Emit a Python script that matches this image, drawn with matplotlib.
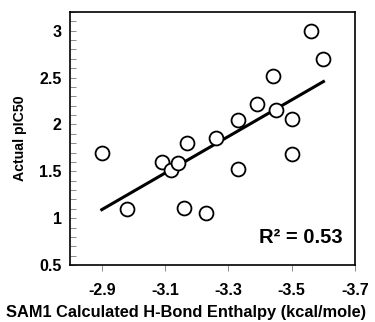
import numpy as np
import matplotlib.pyplot as plt
from matplotlib.ticker import MultipleLocator

plt.rcParams["font.family"] = ["Liberation Sans", "DejaVu Sans"]
plt.rcParams["font.weight"] = "bold"

# SAM1 enthalpy (kcal/mole) vs actual pIC50
enthalpy = [-2.90, -2.98, -3.09, -3.12, -3.14, -3.17, -3.16, -3.23, -3.26,
            -3.33, -3.33, -3.39, -3.44, -3.45, -3.50, -3.50, -3.56, -3.60]
pic50 = [1.69, 1.10, 1.60, 1.51, 1.59, 1.80, 1.11, 1.05, 1.85,
         1.52, 2.05, 2.22, 2.52, 2.15, 2.06, 1.68, 3.00, 2.70]
x_ticks = [-2.9, -3.1, -3.3, -3.5, -3.7]
y_ticks = [0.5, 1, 1.5, 2, 2.5, 3]
r2_label = "R\u00b2 = 0.53"

fig = plt.figure(figsize=(3.75, 3.22), dpi=100)
ax = fig.add_axes([0.187, 0.177, 0.760, 0.786])

ax.scatter(enthalpy, pic50, s=100, facecolors="white", edgecolors="black",
           linewidths=1.3, zorder=3)

# linear trend line
slope, icpt = np.polyfit(enthalpy, pic50, 1)
xl = np.array([min(enthalpy), max(enthalpy)])
ax.plot(xl, slope * xl + icpt, color="black", lw=2.2, zorder=2)

ax.set_xlim(-2.8, -3.7)
ax.set_ylim(0.5, 3.2)
ax.set_xticks(x_ticks)
ax.set_xticklabels(["-2.9", "-3.1", "-3.3", "-3.5", "-3.7"])
ax.set_yticks(y_ticks)
ax.set_yticklabels(["0.5", "1", "1.5", "2", "2.5", "3"])
ax.yaxis.set_minor_locator(MultipleLocator(0.1))

ax.tick_params(axis="x", direction="out", length=4, width=0.6, color="#777777",
               labelsize=11.5, pad=9)
ax.tick_params(axis="y", which="both", direction="in", length=4, width=0.6,
               color="#777777", labelsize=11.5, pad=6)
for s in ax.spines.values():
    s.set_linewidth(1.2)

# x label is centred on the whole figure, not on the axes
fig.text(0.496, 0.028, "SAM1 Calculated H-Bond Enthalpy (kcal/mole)",
         ha="center", va="center", fontsize=11.8, fontweight="bold")
ax.set_ylabel("Actual pIC50", fontsize=10.2, fontweight="bold", labelpad=9)

ax.text(0.955, 0.107, r2_label, transform=ax.transAxes, ha="right", va="center",
        fontsize=14.5, fontweight="bold")

fig.savefig("out.png", dpi=100)
